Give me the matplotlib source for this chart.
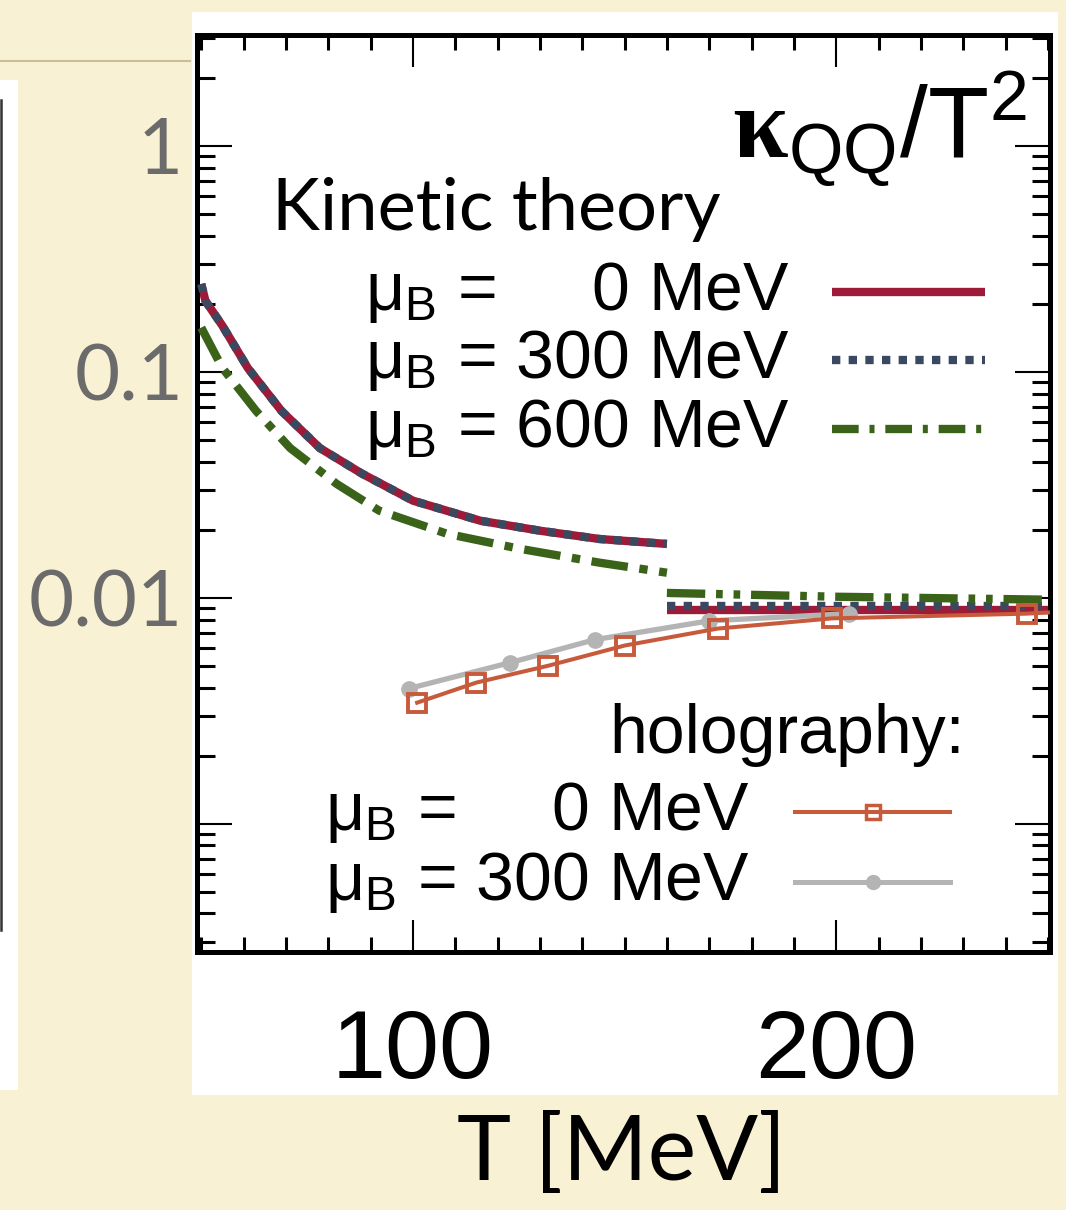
import matplotlib
matplotlib.use("Agg")
import matplotlib.pyplot as plt
from matplotlib.patches import Rectangle
from matplotlib.lines import Line2D

plt.rcParams['mathtext.fontset'] = 'custom'
plt.rcParams['mathtext.rm'] = 'Liberation Sans'
plt.rcParams['mathtext.it'] = 'Liberation Sans:italic'
plt.rcParams['mathtext.bf'] = 'Liberation Serif:bold'
plt.rcParams['font.family'] = 'Liberation Sans'

# kinetic theory, hadron-gas branch (T < 160 MeV)
T_kin_lo = [50, 51, 55, 61, 69, 78, 88, 100, 116, 130, 144, 160]
kqq_mu0_lo = [0.245, 0.206, 0.160, 0.104, 0.067, 0.046, 0.0354, 0.0269,
              0.0219, 0.0198, 0.0182, 0.0173]
kqq_mu300_lo = kqq_mu0_lo
T_kin_lo600 = [50, 55, 63, 71, 82, 92, 108, 125, 144, 160]
kqq_mu600_lo = [0.157, 0.104, 0.067, 0.046, 0.0319, 0.0243, 0.0192, 0.0165,
                0.0143, 0.0129]

# kinetic theory, QGP branch (T > 160 MeV)
T_kin_hi = [160, 200, 250]
kqq_mu0_hi = [0.0088, 0.0088, 0.0088]
kqq_mu300_hi = [0.0092, 0.0092, 0.0092]
kqq_mu600_hi = [0.0105, 0.0101, 0.0098]

# holography
T_holo0 = [101, 115, 132, 150, 172, 199, 245, 250]
kqq_holo0 = [0.00343, 0.00421, 0.0050, 0.00614, 0.0073, 0.0081, 0.0085, 0.0086]
T_holo300 = [99, 123, 143, 170, 203]
kqq_holo300 = [0.00396, 0.00516, 0.00652, 0.0079, 0.0085]

x_ticks = [100, 200]
y_ticks = [1e-4, 1e-3, 1e-2, 1e-1, 1]
y_labels = ['', '', '0.01', '0.1', '1']

RED = '#9d1b38'
BLUE = '#3b4960'
GREEN = '#3a6319'
ORANGE = '#c85a3c'
GRAY = '#b4b4b4'
BEIGE = '#f9f1d3'

W, H = 1066, 1210


def px(x, y):
    return x / W, 1 - y / H


fig = plt.figure(figsize=(W / 100, H / 100), dpi=100, facecolor=BEIGE)

# white backing panels of the slide
fig.patches.append(Rectangle(px(192, 1095), 866 / W, 1083 / H, transform=fig.transFigure,
                             facecolor='white', edgecolor='none', zorder=-2))
fig.patches.append(Rectangle(px(0, 1090), 18 / W, 1010 / H, transform=fig.transFigure,
                             facecolor='white', edgecolor='none', zorder=-2))
fig.lines.append(Line2D([1 / W, 1 / W], [1 - 100 / H, 1 - 930 / H], transform=fig.transFigure,
                        color='#333333', lw=1.8, zorder=-1))
fig.lines.append(Line2D([0, 190 / W], [1 - 61 / H, 1 - 61 / H], transform=fig.transFigure,
                        color='#c9bd9a', lw=1.5, zorder=-1))

ax = fig.add_axes([197 / W, 1 - 952 / H, 853 / W, 917 / H])
ax.set_facecolor('white')
ax.set_yscale('log')

lw = 6.0
ax.plot(T_kin_lo, kqq_mu0_lo, color=RED, lw=lw, solid_capstyle='butt', zorder=2)
ax.plot(T_kin_lo, kqq_mu300_lo, color=BLUE, lw=lw, ls=(0, (1, 1)), dash_capstyle='butt', zorder=3)
ax.plot(T_kin_lo600, kqq_mu600_lo, color=GREEN, lw=lw, ls=(0, (4.4, 1.4, 1, 1.4)),
        dash_capstyle='butt', zorder=3)
ax.plot(T_kin_hi, kqq_mu0_hi, color=RED, lw=lw, solid_capstyle='butt', zorder=2)
ax.plot(T_kin_hi, kqq_mu300_hi, color=BLUE, lw=lw, ls=(0, (1, 1)), dash_capstyle='butt', zorder=3)
ax.plot(T_kin_hi, kqq_mu600_hi, color=GREEN, lw=lw, ls=(0, (4.6, 1.3, 0.8, 1.3, 0.8, 1.3)),
        dash_capstyle='butt', zorder=3)

ax.plot(T_holo300, kqq_holo300, color=GRAY, lw=3.8, marker='o', ms=11,
        solid_capstyle='round', zorder=4)
ax.plot(T_holo0, kqq_holo0, color=ORANGE, lw=2.9, marker='s', ms=12.5, mew=2.8,
        mfc='none', markevery=slice(0, 7), zorder=5)

for side in ax.spines.values():
    side.set_linewidth(3.6)
ax.set_xticks(x_ticks)
ax.set_xticks(range(50, 251, 10), minor=True)
ax.set_yticks(y_ticks)
ax.set_yticklabels(y_labels)
ax.tick_params(which='both', direction='in', top=True, right=True)
ax.tick_params(axis='y', which='major', length=25, width=1.5, pad=10,
               labelsize=56, labelcolor='#6b6b6b')
ax.tick_params(axis='y', which='minor', length=13, width=2.2)
ax.tick_params(axis='x', which='major', length=23, width=1.5, pad=40, labelsize=70)
ax.tick_params(axis='x', which='minor', length=11, width=2.2)
for t in ax.get_yticklabels():
    t.set_family('Lato')
ax.set_xlim(49, 250.5)
ax.set_ylim(2.7e-4, 3.1)

# labels drawn on the slide around the axes
fig.text(*px(1027, 158), r'$\mathbf{\kappa}_{\rm QQ}/{\rm T}^{2}$', fontsize=72,
         va='baseline', ha='right')
fig.text(*px(272, 230), 'Kinetic theory', family='Lato', fontsize=52, va='baseline')
fig.text(*px(622, 1180), 'T [MeV]', family='Lato', fontsize=66, va='baseline', ha='center')

kin_rows = [(310, r'μ$_{\rm B}$ =     0 MeV', dict(color=RED, lw=lw, solid_capstyle='butt')),
            (378, r'μ$_{\rm B}$ = 300 MeV', dict(color=BLUE, lw=lw, ls=(0, (1, 1)))),
            (447, r'μ$_{\rm B}$ = 600 MeV', dict(color=GREEN, lw=lw, ls=(0, (3.2, 1.3, 0.6, 1.3))))]
for yb, label, style in kin_rows:
    fig.text(*px(790, yb), label, fontsize=49, va='baseline', ha='right',
             bbox=dict(facecolor='white', edgecolor='none', pad=0), zorder=6)
    yk = yb - 18
    fig.lines.append(Line2D([832 / W, 985 / W], [1 - yk / H] * 2, transform=fig.transFigure, **style))

fig.text(*px(965, 753), 'holography:', fontsize=49, va='baseline', ha='right')
holo_rows = [(830, r'μ$_{\rm B}$ =     0 MeV',
              dict(color=ORANGE, lw=2.9, marker='s', ms=10, mew=2.5, mfc='none', markevery=[1])),
             (900, r'μ$_{\rm B}$ = 300 MeV',
              dict(color=GRAY, lw=3.6, marker='o', ms=10, markevery=[1]))]
for yb, label, style in holo_rows:
    fig.text(*px(750, yb), label, fontsize=49, va='baseline', ha='right')
    yk = yb - 18
    fig.lines.append(Line2D([795 / W, 873 / W, 950 / W], [1 - yk / H] * 3,
                            transform=fig.transFigure, **style))

fig.savefig('out.png', dpi=100, facecolor=BEIGE)
